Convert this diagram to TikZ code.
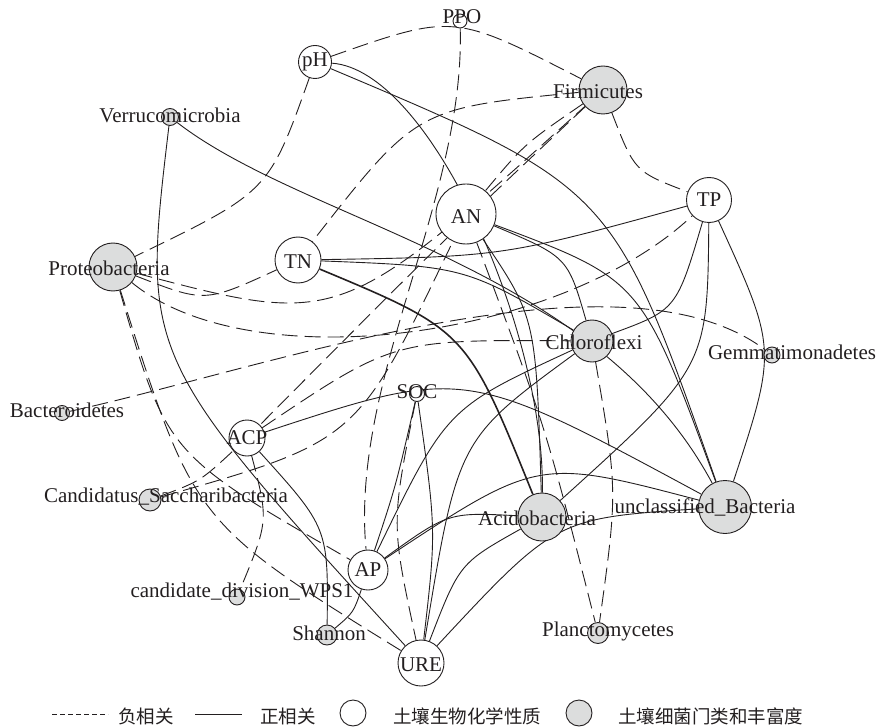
\documentclass[tikz,border=0pt]{standalone}
\usepackage{fontspec}
\setmainfont{Liberation Serif}
\newfontfamily\cjk{Noto Sans CJK SC}
\usetikzlibrary{calc}
\pgfdeclarelayer{bg}
\pgfsetlayers{bg,main}
\definecolor{ln}{RGB}{35,31,32}
\definecolor{gfill}{RGB}{220,221,221}
% one mid point
\newcommand\lnk[4]{\draw[#1] (#2) .. controls ($1.33333*(#4)-0.16667*(#2)-0.16667*(#3)$) .. (#3);}
% two control points
\newcommand\lnkc[5]{\draw[#1] (#2) .. controls (#4) and (#5) .. (#3);}
\begin{document}
\begin{tikzpicture}[x=1pt,y=-1pt,font=\fontsize{21}{24}\selectfont,
 wn/.style={circle,draw=ln,fill=white,line width=0.9pt,inner sep=0pt},
 gn/.style={circle,draw=ln,fill=gfill,line width=0.9pt,inner sep=0pt},
 lab/.style={inner sep=0pt,text=ln},
 posl/.style={draw=ln,line width=0.9pt},
 negl/.style={draw=ln,line width=0.9pt,dash pattern=on 16pt off 7pt},
 leg/.style={inner sep=0pt,anchor=west,text=ln,font=\cjk\fontsize{18.5}{20}\selectfont}]
\useasboundingbox (0,0) rectangle (877,727);
% circles
\node[wn,minimum size=14pt] (PPO) at (460,21) {};
\node[wn,minimum size=33pt] (pH) at (315,62) {};
\node[gn,minimum size=48pt] (Fi) at (603,90) {};
\node[gn,minimum size=17pt] (Ve) at (170,117) {};
\node[wn,minimum size=45pt] (TP) at (709,200) {};
\node[wn,minimum size=60pt] (AN) at (466,214) {};
\node[wn,minimum size=46pt] (TN) at (298,260) {};
\node[gn,minimum size=48pt] (Pr) at (113,267) {};
\node[gn,minimum size=42pt] (Chl) at (592,341) {};
\node[gn,minimum size=16pt] (Ge) at (772,355) {};
\node[wn,minimum size=15pt] (SOC) at (417,394) {};
\node[gn,minimum size=15pt] (Ba) at (62,413) {};
\node[wn,minimum size=36pt] (ACP) at (247,438) {};
\node[gn,minimum size=22pt] (Ca) at (150,500) {};
\node[gn,minimum size=48pt] (Ac) at (542,517) {};
\node[gn,minimum size=53pt] (UB) at (725,507) {};
\node[wn,minimum size=40pt] (AP) at (368,570) {};
\node[gn,minimum size=16pt] (WP) at (237,597) {};
\node[gn,minimum size=20pt] (Sh) at (327,635) {};
\node[wn,minimum size=46pt] (URE) at (421,663) {};
\node[gn,minimum size=21pt] (Pl) at (598,633) {};
% edges
\begin{pgfonlayer}{bg}
% negative
\lnk{negl}{pH}{Fi}{455,29}
\lnk{negl}{pH}{Pr}{255,185}
\lnkc{negl}{PPO}{AP}{465,200}{350,380}
\lnk{negl}{Fi}{TP}{640,165}
\lnk{negl}{Fi}{TN}{425,125}
\lnk{negl}{Fi}{AN}{527,146}
\lnk{negl}{Fi}{ACP}{440,245}
\lnk{negl}{Pr}{Fi}{345,290}
\lnk{negl}{Pr}{TN}{205,293}
\lnkc{negl}{Pr}{TP}{250,380}{560,340}
\lnkc{negl}{Ba}{Ge}{260,370}{620,240}
\lnk{negl}{ACP}{Chl}{400,352}
\lnk{negl}{Pr}{AP}{185,445}
\lnk{negl}{Pr}{URE}{212,508}
\lnk{negl}{ACP}{WP}{262,520}
\lnk{negl}{Ca}{ACP}{200,478}
\lnk{negl}{Ca}{AN}{345,420}
\lnk{negl}{Chl}{Pl}{612,490}
\lnk{negl}{AN}{Pl}{542,425}
\lnk{negl}{SOC}{URE}{398,525}
% positive
\lnkc{posl}{pH}{Ac}{430,70}{545,330}
\lnk{posl}{pH}{UB}{590,212}
\lnkc{posl}{Ve}{UB}{310,225}{595,265}
\lnk{posl}{Ve}{URE}{180,365}
\lnk{posl}{TN}{TP}{503,250}
\lnk{posl}{TN}{Chl}{460,275}
\lnk{posl,line width=1.6pt}{TN}{Ac}{455,345}
\lnk{posl}{TP}{Chl}{670,300}
\lnk{posl}{TP}{Ac}{687,365}
\lnk{posl}{TP}{UB}{762,350}
\lnk{posl}{AN}{Chl}{558,262}
\lnk{posl}{AN}{UB}{630,300}
\lnk{posl}{AN}{Ac}{528,330}
\lnk{posl}{Chl}{AP}{455,420}
\lnk{posl}{Chl}{URE}{470,455}
\lnk{posl}{ACP}{UB}{470,393}
\lnk{posl}{ACP}{Sh}{318,530}
\lnk{posl}{SOC}{AP}{395,485}
\lnk{posl}{AP}{Ac}{450,520}
\lnk{posl}{AP}{UB}{540,478}
\lnk{posl}{AP}{Sh}{352,610}
\lnk{posl}{URE}{Ac}{465,570}
\lnk{posl}{URE}{UB}{560,535}
\lnk{posl}{SOC}{URE}{432,530}
\end{pgfonlayer}
% labels
\node[lab] (lPPO) at (462,17) {PPO};
\node[lab] (lpH) at (315,62) {pH};
\node[lab] (lFi) at (598,92) {Firmicutes};
\node[lab] (lVe) at (170,115) {Verrucomicrobia};
\node[lab] (lTP) at (709,200) {TP};
\node[lab] (lAN) at (466,217) {AN};
\node[lab] (lTN) at (298,262) {TN};
\node[lab] (lPr) at (109,268) {Proteobacteria};
\node[lab] (lChl) at (594,342) {Chloroflexi};
\node[lab] (lGe) at (792,352) {Gemmatimonadetes};
\node[lab] (lSOC) at (417,392) {SOC};
\node[lab] (lBa) at (67,410) {Bacteroidetes};
\node[lab] (lACP) at (247,438) {ACP};
\node[lab] (lCa) at (166,497) {Candidatus\_Saccharibacteria};
\node[lab] (lAc) at (537,518) {Acidobacteria};
\node[lab] (lUB) at (705,507) {unclassified\_Bacteria};
\node[lab] (lAP) at (368,570) {AP};
\node[lab] (lWP) at (242,592) {candidate\_division\_WPS1};
\node[lab] (lSh) at (329,633) {Shannon};
\node[lab] (lURE) at (421,665) {URE};
\node[lab] (lPl) at (608,631) {Planctomycetes};
% legend
\coordinate (d1) at (52,714); \coordinate (d2) at (108,714);
\draw[ln,line width=0.8pt,dash pattern=on 5pt off 3pt] (d1) -- (d2);
\node[leg] (t1) at (118,716) {负相关};
\coordinate (s1) at (195,714); \coordinate (s2) at (242,714);
\draw[ln,line width=0.9pt] (s1) -- (s2);
\node[leg] (t2) at (260,716) {正相关};
\node[wn,minimum size=26pt] (c1) at (353,713) {};
\node[leg] (t3) at (393,716) {土壤生物化学性质};
\node[gn,minimum size=26pt] (c2) at (579,713) {};
\node[leg] (t4) at (618,716) {土壤细菌门类和丰富度};
\end{tikzpicture}
\end{document}
